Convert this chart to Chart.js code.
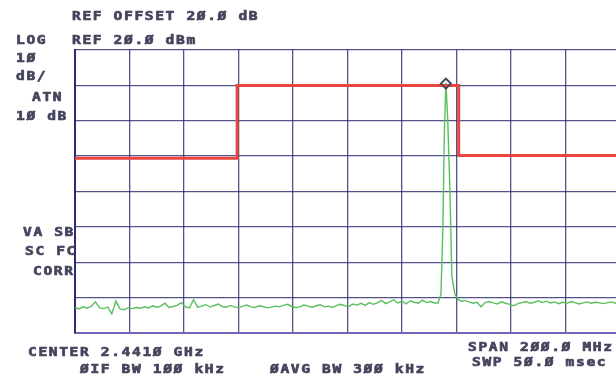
<!DOCTYPE html>
<html>
<head>
<meta charset="utf-8">
<script src="https://cdn.jsdelivr.net/npm/chart.js@4/dist/chart.umd.min.js"></script>
<style>
  html, body { margin: 0; padding: 0; background: #fff; overflow: hidden; }
  #wrap { position: absolute; left: 0; top: 0; width: 630px; height: 377px; }
</style>
</head>
<body>
<div id="wrap"><canvas id="saChart" width="630" height="377"></canvas></div>
<script>
// frequency offsets from centre (MHz), levels in dBm
const noiseLeftStart = -100;
const noiseStep = 1.5;
const noiseLeft = [-52.8,-53.2,-52.6,-53.0,-52.4,-51.2,-52.9,-53.1,-52.7,-54.6,-51.0,-53.2,-53.4,-52.9,-53.1,-52.8,-53.0,-52.6,-52.9,-52.3,
  -52.7,-52.4,-51.6,-52.8,-52.5,-52.2,-51.4,-52.6,-52.9,-50.6,-52.7,-52.4,-52.0,-52.6,-52.3,-51.8,-52.5,-52.7,-52.2,-52.6,
  -52.9,-52.4,-52.1,-52.6,-52.8,-52.3,-52.5,-52.9,-52.7,-52.4,-52.6,-52.2,-51.9,-52.5,-52.8,-52.6,-52.1,-52.4,-52.7,-52.3,
  -52.0,-52.6,-52.4,-52.8,-52.2,-51.9,-52.3,-52.5,-51.8,-52.1,-51.6,-52.2,-51.4,-51.9,-51.5,-50.8,-51.7,-51.2,-50.6,-51.5,
  -51.0,-51.8,-50.9,-51.3,-51.6,-50.7,-51.4,-51.1,-51.5];
const peakFreqs = [33.2, 34.3, 35.0, 35.5, 36.1, 36.8, 37.6, 38.3, 39.4, 40.6, 41.7];
const peakLevels = [-51.5, -49.0, -30.0, -5.0, 10.8, 0.0, -20.0, -44.0, -49.0, -50.5, -51.0];
const noiseRightStart = 43;
const noiseRight = [-50.8,-51.2,-51.6,-51.3,-52.6,-51.4,-51.1,-51.5,-51.8,-51.2,-51.6,-51.9,-52.3,-51.7,-51.4,-51.1,-51.6,-51.3,-50.9,-51.4,
  -51.0,-51.5,-51.2,-51.7,-51.3,-51.6,-51.1,-51.4,-51.8,-51.5,-51.2,-51.6,-51.3,-51.5,-51.7,-51.4,-51.2,-51.6,-51.4];
const limitFreqs = [-100, -40.5, -40.5, 40.8, 40.8, 100];
const limitLevels = [-10.6, -10.6, 10, 10, -9.8, -9.8];
const markerFreq = [36.1];
const markerLevel = [10.5];

const refLevel = 20;
const dbPerDiv = 10;

const labelsTop = [
  ['REF OFFSET 2Ø.Ø dB', 72, 17],
  ['LOG', 16, 41],
  ['REF 2Ø.Ø dBm', 72, 41],
  ['1Ø', 16, 59],
  ['dB/', 16, 77],
  ['ATN', 32, 98],
  ['1Ø dB', 16, 117],
  ['VA SB', 23, 233],
  ['SC FC', 25, 252],
  ['CORR', 33, 272],
  ['CENTER 2.441Ø GHz', 28, 353],
  ['ØIF BW 1ØØ kHz', 80, 370],
  ['ØAVG BW 3ØØ kHz', 270, 370],
  ['SPAN 2ØØ.Ø MHz', 468, 348],
  ['SWP 5Ø.Ø msec', 472, 363]
];

const trace = [];
noiseLeft.forEach((v, i) => trace.push({x: noiseLeftStart + i * noiseStep, y: v}));
peakFreqs.forEach((f, i) => trace.push({x: f, y: peakLevels[i]}));
noiseRight.forEach((v, i) => trace.push({x: noiseRightStart + i * noiseStep, y: v}));

const limit = limitFreqs.map((f, i) => ({x: f, y: limitLevels[i]}));
const marker = markerFreq.map((f, i) => ({x: f, y: markerLevel[i]}));

// printer style text, drawn one character at a time on a fixed pitch
const textPlugin = {
  id: 'saText',
  afterDraw(chart) {
    const ctx = chart.ctx;
    ctx.save();
    ctx.fillStyle = '#44445e';
    ctx.strokeStyle = '#44445e';
    ctx.lineWidth = 0.7;
    ctx.font = 'bold 13px "DejaVu Sans Mono"';
    ctx.textBaseline = 'middle';
    labelsTop.forEach(([str, x, y]) => {
      for (let i = 0; i < str.length; i++) {
        ctx.save();
        ctx.translate(x + i * 10.4, y);
        ctx.scale(1.12, 0.9);
        ctx.fillText(str[i], 0, 0);
        ctx.strokeText(str[i], 0, 0);
        ctx.restore();
      }
    });
    ctx.restore();
  }
};

new Chart(document.getElementById('saChart'), {
  type: 'line',
  data: {
    datasets: [{
      data: marker,
      showLine: false,
      pointStyle: 'rectRot',
      pointRadius: 5,
      pointBorderWidth: 2,
      pointBorderColor: '#444458',
      pointBackgroundColor: 'rgba(0,0,0,0)'
    }, {
      data: limit,
      borderColor: '#e8463f',
      borderWidth: 3,
      pointRadius: 0,
      tension: 0
    }, {
      data: trace,
      borderColor: '#5cbf5e',
      borderWidth: 1.4,
      pointRadius: 0,
      tension: 0
    }]
  },
  options: {
    responsive: false,
    animation: false,
    layout: {padding: {left: 75, top: 50, right: 10, bottom: 44}},
    plugins: {legend: {display: false}, tooltip: {enabled: false}},
    scales: {
      x: {
        type: 'linear',
        min: -100,
        max: 100,
        ticks: {display: false, stepSize: 20},
        grid: {color: 'rgba(40,40,110,0.8)', lineWidth: 1.3, drawTicks: false},
        border: {color: '#7465b8', width: 2}
      },
      y: {
        min: refLevel - 8 * dbPerDiv,
        max: refLevel,
        ticks: {display: false, stepSize: dbPerDiv},
        grid: {color: 'rgba(40,40,110,0.8)', lineWidth: 1.3, drawTicks: false},
        border: {color: '#2e2e6e', width: 2}
      }
    }
  },
  plugins: [textPlugin]
});
</script>
</body>
</html>
